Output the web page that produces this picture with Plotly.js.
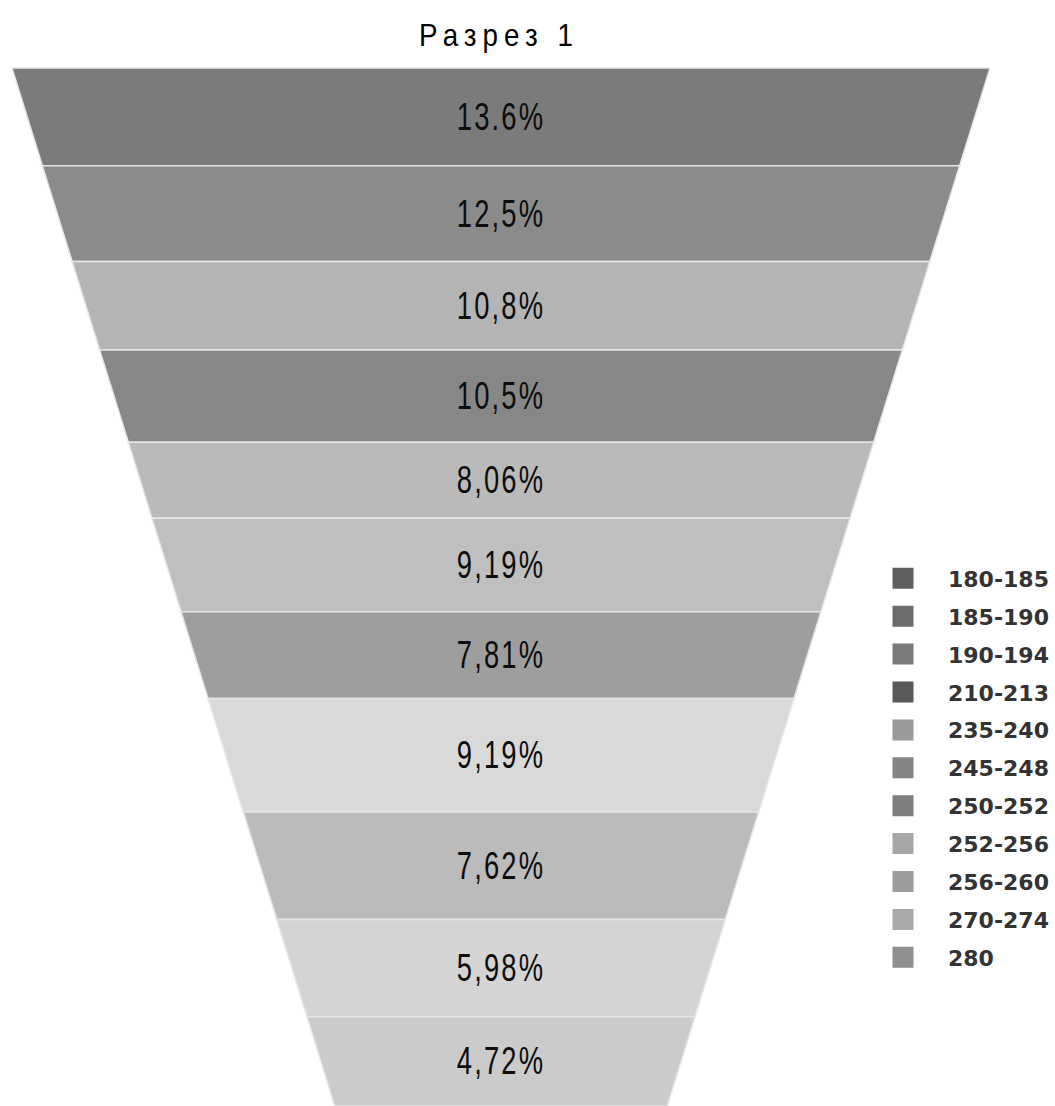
<!DOCTYPE html>
<html>
<head>
<meta charset="utf-8">
<script src="https://cdn.plot.ly/plotly-3.0.1.min.js"></script>
<style>
  html, body { margin: 0; padding: 0; background: #ffffff; }
  #chart { width: 1055px; height: 1106px; }
  .gtitle { letter-spacing: 7px; }
  .slicetext text { letter-spacing: 3px; }
</style>
</head>
<body>
<div id="chart"></div>
<script>
// Size ranges (legend categories), one per funnel band, top to bottom
const ranges = ['180-185', '185-190', '190-194', '210-213', '235-240', '245-248',
                '250-252', '252-256', '256-260', '270-274', '280'];

// Share of each range, percent
const shares = [13.6, 12.5, 10.8, 10.5, 8.06, 9.19, 7.81, 9.19, 7.62, 5.98, 4.72];

// Printed share labels (the top one uses a decimal point)
const shareLabels = ['13.6%', '12,5%', '10,8%', '10,5%', '8,06%', '9,19%',
                     '7,81%', '9,19%', '7,62%', '5,98%', '4,72%'];

// Band fills, top to bottom
const bandColors = ['#7b7b7b', '#8b8b8b', '#b4b4b4', '#878787', '#bababa', '#bfbfbf',
                    '#9e9e9e', '#d9d9d9', '#bbbbbb', '#d4d4d4', '#cbcbcb'];

// Legend swatch colours
const legendColors = ['#5e5e5e', '#6c6c6c', '#7a7a7a', '#5a5a5a', '#9a9a9a', '#858585',
                      '#7f7f7f', '#a6a6a6', '#9c9c9c', '#a9a9a9', '#8f8f8f'];

const W = 1055, H = 1106;
const SANS = '"Liberation Sans", Arial, sans-serif';

const funnel = {
  type: 'funnelarea',
  labels: ranges,
  values: shares,
  text: shareLabels,
  textinfo: 'text',
  textposition: 'inside',
  sort: false,
  showlegend: false,
  hoverinfo: 'label+text',
  aspectratio: 1038 / 978,
  baseratio: 0.34,
  domain: { x: [12 / W, 990 / W], y: [0, 1 - 68 / H] },
  marker: { colors: bandColors, line: { color: '#e6e6e6', width: 1.5 } },
  insidetextfont: { family: SANS, size: 38, color: '#0d0d0d' }
};

// Legend-only entries: one square swatch per range, each in its own group
const legendTraces = ranges.map((name, i) => ({
  type: 'scatter',
  mode: 'markers',
  x: [null],
  y: [null],
  name: name,
  legendgroup: 'g' + i,
  hoverinfo: 'skip',
  marker: { symbol: 'square', size: 16, color: legendColors[i], line: { color: legendColors[i], width: 5 } }
}));

const layout = {
  width: W,
  height: H,
  margin: { l: 0, r: 0, t: 0, b: 0, autoexpand: false },
  paper_bgcolor: '#ffffff',
  plot_bgcolor: '#ffffff',
  title: {
    text: 'Разрез 1',
    x: 499 / W,
    xanchor: 'center',
    xref: 'paper',
    y: 1 - 35 / H,
    yanchor: 'middle',
    yref: 'container',
    font: { family: SANS, size: 32, color: '#000000' }
  },
  xaxis: { visible: false },
  yaxis: { visible: false },
  showlegend: true,
  legend: {
    x: 858 / W,
    xanchor: 'left',
    y: 1 - 768 / H,
    yanchor: 'middle',
    itemwidth: 80,
    tracegroupgap: 6.3,
    traceorder: 'grouped',
    bgcolor: 'rgba(0,0,0,0)',
    font: { family: '"DejaVu Sans", Verdana, sans-serif', size: 22, color: '#333333', weight: 'bold' }
  }
};

// Narrow the lettering: share labels and title are set in a condensed cut
function condense(el, factor, length) {
  const w = el.getComputedTextLength();
  el.setAttribute('lengthAdjust', 'spacingAndGlyphs');
  el.setAttribute('textLength', length || w * factor);
}

Plotly.newPlot('chart', [funnel].concat(legendTraces), layout, { displayModeBar: false, staticPlot: true })
  .then(gd => {
    gd.querySelectorAll('.slicetext text, text.slicetext').forEach(t => condense(t, 0.72));
    gd.querySelectorAll('.gtitle').forEach(t => condense(t, 1, 160));
  });
</script>
</body>
</html>
